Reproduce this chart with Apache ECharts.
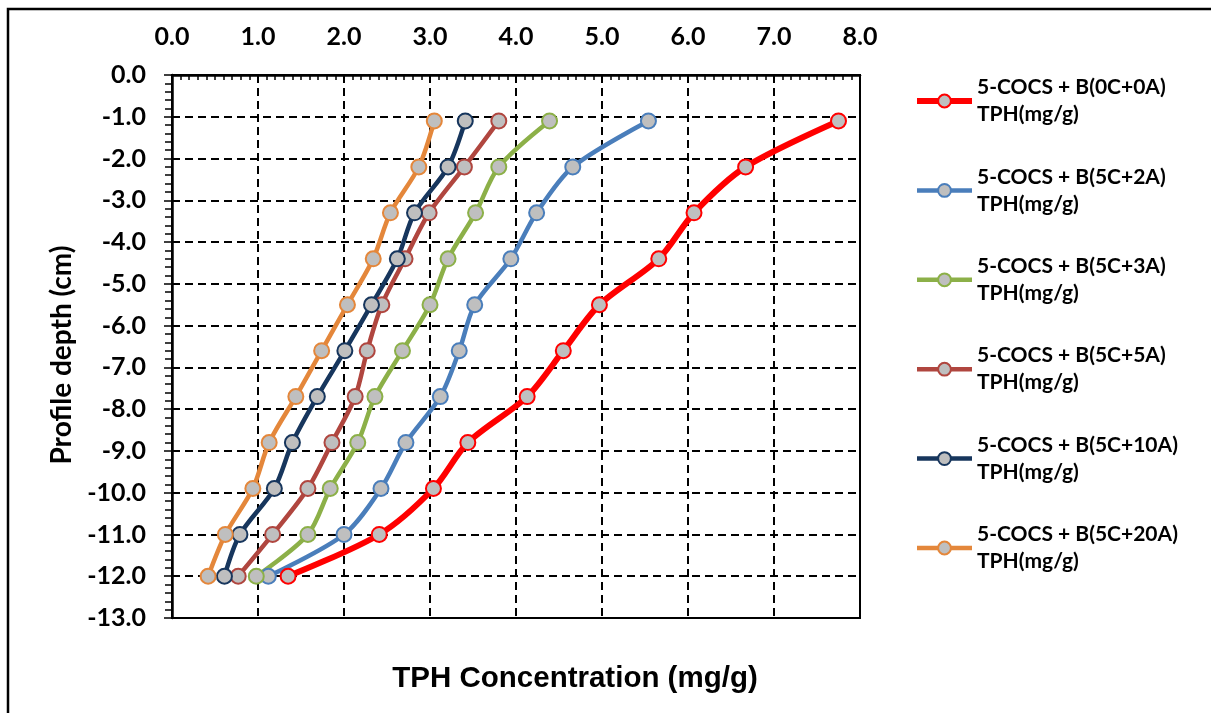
<!DOCTYPE html>
<html>
<head>
<meta charset="utf-8">
<script src="https://cdn.jsdelivr.net/npm/echarts@6/dist/echarts.min.js"></script>
<style>
html,body{margin:0;padding:0;background:#fff;}
#c{width:1211px;height:713px;}
</style>
</head>
<body>
<div id="c"></div>
<script>
// Depths (cm)
const depths = [-1.1, -2.2, -3.3, -4.4, -5.5, -6.6, -7.7, -8.8, -9.9, -11.0, -12.0];
// TPH concentration (mg/g) per series
const s0C0A  = [7.75, 6.67, 6.07, 5.66, 4.97, 4.55, 4.13, 3.44, 3.04, 2.41, 1.35];
const s5C2A  = [5.54, 4.66, 4.24, 3.94, 3.52, 3.34, 3.12, 2.72, 2.43, 2.00, 1.12];
const s5C3A  = [4.39, 3.80, 3.53, 3.21, 3.00, 2.68, 2.36, 2.16, 1.84, 1.58, 0.98];
const s5C5A  = [3.80, 3.40, 2.99, 2.71, 2.44, 2.27, 2.13, 1.86, 1.58, 1.17, 0.77];
const s5C10A = [3.41, 3.21, 2.82, 2.62, 2.32, 2.01, 1.69, 1.40, 1.19, 0.79, 0.61];
const s5C20A = [3.05, 2.87, 2.54, 2.34, 2.04, 1.74, 1.44, 1.13, 0.94, 0.62, 0.42];
const seriesNames = [
  '5-COCS + B(0C+0A)\nTPH(mg/g)',
  '5-COCS + B(5C+2A)\nTPH(mg/g)',
  '5-COCS + B(5C+3A)\nTPH(mg/g)',
  '5-COCS + B(5C+5A)\nTPH(mg/g)',
  '5-COCS + B(5C+10A)\nTPH(mg/g)',
  '5-COCS + B(5C+20A)\nTPH(mg/g)'
];
const xTitle = 'TPH Concentration (mg/g)';
const yTitle = 'Profile depth (cm)';

const seriesValues = [s0C0A, s5C2A, s5C3A, s5C5A, s5C10A, s5C20A];
const colors = ['#FF0000', '#4A7EBB', '#8CB048', '#B0463F', '#17365D', '#E4873B'];
const widths = [6, 4.5, 4.5, 4.5, 4.5, 4.5];

const series = seriesValues.map((vals, i) => ({
  name: seriesNames[i],
  type: 'line',
  smooth: 0.3,
  data: vals.map((v, k) => [v, depths[k]]),
  symbol: 'circle',
  symbolSize: 15,
  lineStyle: { color: colors[i], width: widths[i] },
  itemStyle: { color: '#BFBFBF', borderColor: colors[i], borderWidth: 2 },
  emphasis: { disabled: true },
  animation: false
}));

const chart = echarts.init(document.getElementById('c'), null, { renderer: 'canvas' });
const labelFont = { fontFamily: 'Lato', fontWeight: 'bold', fontSize: 25, color: '#000' };
chart.setOption({
  backgroundColor: '#fff',
  animation: false,
  graphic: [{
    type: 'rect', shape: { x: 8, y: 9, width: 1220, height: 730 },
    style: { fill: 'none', stroke: '#000', lineWidth: 2.5 }, silent: true
  }],
  title: {
    text: xTitle, left: 570, top: 659, textAlign: 'center',
    textStyle: { fontFamily: 'Liberation Sans', fontWeight: 'bold', fontSize: 29.5, color: '#000' }
  },
  grid: { left: 172, top: 75, width: 688, height: 543, show: true, borderColor: '#000', borderWidth: 2, backgroundColor: 'transparent' },
  legend: {
    orient: 'vertical', left: 914, top: 60.5, padding: 0, itemWidth: 55, itemHeight: 16, itemGap: 8.4,
    selectedMode: false,
    textStyle: { fontFamily: 'Lato', fontWeight: 'bold', fontSize: 21, color: '#000', lineHeight: 27, padding: [27, 0, 0, 0] },
    data: seriesNames.map((n, i) => ({ name: n, lineStyle: { width: widths[i] } }))
  },
  xAxis: {
    type: 'value', position: 'top', min: 0, max: 8, interval: 1,
    axisLine: { show: true, lineStyle: { color: '#000', width: 2.5 } },
    axisTick: { show: true, inside: true, length: 6, lineStyle: { color: '#000', width: 1.5 } },
    minorTick: { show: true, splitNumber: 10, length: 5, lineStyle: { color: '#000', width: 1.5 } },
    axisLabel: Object.assign({ margin: 26, formatter: v => v.toFixed(1) }, labelFont),
    splitLine: { show: true, lineStyle: { color: '#000', width: 2, type: [8, 5] } }
  },
  yAxis: {
    type: 'value', min: -13, max: 0, interval: 1,
    name: yTitle, nameLocation: 'middle', nameGap: 95, nameRotate: 90,
    nameTextStyle: { fontFamily: 'Lato', fontWeight: 'bold', fontSize: 28, color: '#000', padding: [0, 17, 0, 0] },
    axisLine: { show: true, onZero: false, lineStyle: { color: '#000', width: 2.5 } },
    axisTick: { show: true, inside: false, length: 8, lineStyle: { color: '#000', width: 1.5 } },
    minorTick: { show: true, splitNumber: 5, length: 7, lineStyle: { color: '#000', width: 1.5 } },
    axisLabel: Object.assign({ margin: 26, formatter: v => v.toFixed(1) }, labelFont),
    splitLine: { show: true, lineStyle: { color: '#000', width: 2, type: [8, 5] } }
  },
  series: series
});
</script>
</body>
</html>
